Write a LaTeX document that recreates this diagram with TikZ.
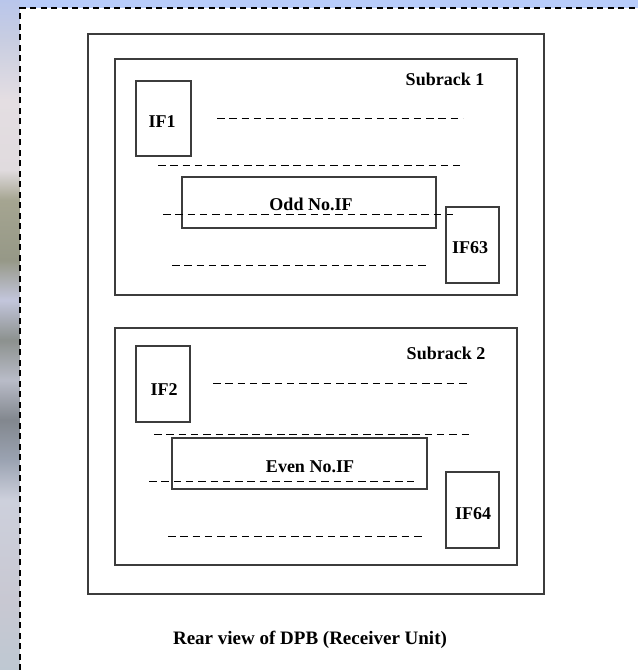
\documentclass[tikz,border=0pt]{standalone}
\usepackage{fontspec}
\setmainfont{Liberation Serif}
\usetikzlibrary{positioning}

% colours of the window edge behind the page
\definecolor{edgeA}{RGB}{185,198,235}
\definecolor{edgeB}{RGB}{200,205,225}
\definecolor{edgeC}{RGB}{228,222,226}
\definecolor{edgeD}{RGB}{224,219,222}
\definecolor{edgeE}{RGB}{165,165,145}
\definecolor{edgeF}{RGB}{150,152,135}
\definecolor{edgeG}{RGB}{195,198,220}
\definecolor{edgeH}{RGB}{140,145,142}
\definecolor{edgeI}{RGB}{185,188,200}
\definecolor{edgeJ}{RGB}{130,135,142}
\definecolor{edgeK}{RGB}{155,163,178}
\definecolor{edgeL}{RGB}{205,208,220}
\definecolor{edgeM}{RGB}{200,200,210}
\definecolor{edgeN}{RGB}{190,200,210}
\definecolor{topband}{RGB}{184,204,250}
\definecolor{frame}{RGB}{60,60,60}

% vertical shading in the usual 100bp box; the path maps onto 25bp..75bp
\pgfdeclareverticalshading{edgestrip}{100bp}{%
  color(0bp)=(edgeN); color(25bp)=(edgeN); color(30.22bp)=(edgeM);
  color(37.69bp)=(edgeL); color(40.67bp)=(edgeK); color(43.66bp)=(edgeJ);
  color(46.64bp)=(edgeI); color(49.63bp)=(edgeH); color(52.61bp)=(edgeG);
  color(55.6bp)=(edgeF); color(60.07bp)=(edgeE); color(62.31bp)=(edgeD);
  color(67.54bp)=(edgeC); color(72.01bp)=(edgeB); color(75bp)=(edgeA);
  color(100bp)=(edgeA)}

\tikzset{
  box/.style={draw=frame, line width=1.2pt, inner sep=0pt, fill=none},
  lbl/.style={font=\bfseries\fontsize{18}{20}\selectfont, inner sep=0pt},
  slot/.style={draw=black, line width=1pt, dash pattern=on 7.5pt off 4.8pt},
  pageedge/.style={draw=black, line width=1.1pt, dash pattern=on 6pt off 4.5pt}
}

\begin{document}
\begin{tikzpicture}[x=1pt,y=-1pt]
  \useasboundingbox (0,0) rectangle (638,670);

  % surroundings of the page
  \shade[shading=edgestrip] (0,0) rectangle (20,670);
  \fill[topband] (20,0) rectangle (638,8);
  \fill[white] (20,8) rectangle (638,670);
  \draw[pageedge] (20,670) -- (20,8) -- (638,8);

  % receiver unit frame
  \node[box, minimum width=456pt, minimum height=560pt] (unit) at (316,314) {};

  % ---------- subrack 1 ----------
  \node[box, minimum width=402pt, minimum height=236pt] (sub1) at (316,177) {};
  \node[lbl] (sub1lbl) at (445,79) {Subrack 1};
  \node[box, minimum width=55pt, minimum height=75pt] (if1) at (163.5,118.5) {};
  \node[lbl] (if1lbl) at (162,122) {IF1};
  \draw[slot] (217,118) -- (463,118);
  \draw[slot] (158,165) -- (460,165);
  \node[box, minimum width=254pt, minimum height=51pt] (odd) at (309,202.5) {};
  \node[lbl] (oddlbl) at (311,204) {Odd No.IF};
  \draw[slot] (163,214) -- (455,214);
  \node[box, minimum width=53pt, minimum height=76pt] (if63) at (472.5,245) {};
  \node[lbl] (if63lbl) at (470,248) {IF63};
  \draw[slot] (172,265) -- (428,265);

  % ---------- subrack 2 ----------
  \node[box, minimum width=402pt, minimum height=237pt] (sub2) at (316,446.5) {};
  \node[lbl] (sub2lbl) at (446,353) {Subrack 2};
  \node[box, minimum width=54pt, minimum height=76pt] (if2) at (163,384) {};
  \node[lbl] (if2lbl) at (164,390) {IF2};
  \draw[slot] (213,383) -- (470,383);
  \draw[slot] (154,434) -- (472,434);
  \node[box, minimum width=255pt, minimum height=51pt] (even) at (299.5,463.5) {};
  \node[lbl] (evenlbl) at (310,467) {Even No.IF};
  \draw[slot] (149,481) -- (414,481);
  \node[box, minimum width=53pt, minimum height=76pt] (if64) at (472.5,510) {};
  \node[lbl] (if64lbl) at (473,514) {IF64};
  \draw[slot] (168,536) -- (426,536);

  % caption
  \node[lbl, font=\bfseries\fontsize{19}{21}\selectfont] (caption) at (310,640)
    {Rear view of DPB (Receiver Unit)};
\end{tikzpicture}
\end{document}
